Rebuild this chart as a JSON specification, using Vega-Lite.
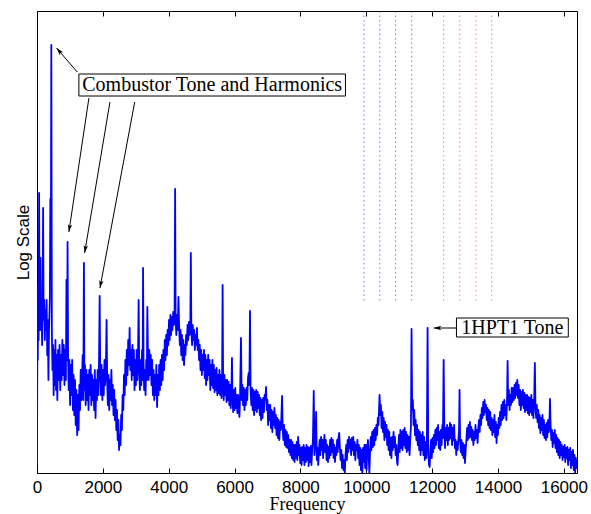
{
"$schema":"https://vega.github.io/schema/vega-lite/v6.json",
"width":540,"height":462,
"autosize":{"type":"none"},
"padding":{"left":37,"top":11,"right":14,"bottom":41},
"background":"white",
"config":{"view":{"stroke":"#000","strokeWidth":1}},
"datasets":{
"spectrum":[{"freq":0,"level":8},{"freq":12,"level":143},{"freq":24,"level":113},{"freq":37,"level":190},{"freq":49,"level":133},{"freq":64,"level":280},{"freq":79,"level":143},{"freq":91,"level":173},{"freq":107,"level":215},{"freq":122,"level":143},{"freq":140,"level":163},{"freq":155,"level":128},{"freq":170,"level":173},{"freq":186,"level":265},{"freq":201,"level":153},{"freq":219,"level":173},{"freq":237,"level":133},{"freq":256,"level":163},{"freq":274,"level":143},{"freq":292,"level":173},{"freq":310,"level":118},{"freq":329,"level":153},{"freq":347,"level":93},{"freq":365,"level":143},{"freq":390,"level":173},{"freq":405,"level":274},{"freq":420,"level":213},{"freq":435,"level":428},{"freq":451,"level":143},{"freq":469,"level":103},{"freq":487,"level":128},{"freq":505,"level":78},{"freq":524,"level":123},{"freq":542,"level":88},{"freq":560,"level":133},{"freq":578,"level":83},{"freq":597,"level":118},{"freq":618,"level":73},{"freq":639,"level":123},{"freq":664,"level":93},{"freq":685,"level":128},{"freq":706,"level":83},{"freq":728,"level":118},{"freq":749,"level":93},{"freq":770,"level":133},{"freq":791,"level":98},{"freq":813,"level":128},{"freq":834,"level":88},{"freq":855,"level":123},{"freq":877,"level":93},{"freq":895,"level":193},{"freq":913,"level":113},{"freq":928,"level":231},{"freq":944,"level":118},{"freq":962,"level":83},{"freq":983,"level":113},{"freq":1005,"level":68},{"freq":1026,"level":108},{"freq":1047,"level":78},{"freq":1068,"level":113},{"freq":1090,"level":63},{"freq":1111,"level":98},{"freq":1132,"level":58},{"freq":1154,"level":93},{"freq":1175,"level":48},{"freq":1196,"level":83},{"freq":1221,"level":38},{"freq":1242,"level":78},{"freq":1263,"level":43},{"freq":1285,"level":88},{"freq":1306,"level":63},{"freq":1327,"level":103},{"freq":1349,"level":73},{"freq":1370,"level":98},{"freq":1388,"level":118},{"freq":1406,"level":73},{"freq":1425,"level":210},{"freq":1440,"level":83},{"freq":1458,"level":108},{"freq":1479,"level":68},{"freq":1501,"level":103},{"freq":1522,"level":73},{"freq":1543,"level":98},{"freq":1565,"level":63},{"freq":1586,"level":103},{"freq":1607,"level":78},{"freq":1629,"level":108},{"freq":1650,"level":68},{"freq":1671,"level":98},{"freq":1692,"level":73},{"freq":1714,"level":93},{"freq":1735,"level":63},{"freq":1756,"level":103},{"freq":1778,"level":55},{"freq":1799,"level":93},{"freq":1820,"level":73},{"freq":1842,"level":103},{"freq":1863,"level":78},{"freq":1884,"level":113},{"freq":1903,"level":177},{"freq":1921,"level":98},{"freq":1942,"level":78},{"freq":1963,"level":108},{"freq":1985,"level":73},{"freq":2006,"level":103},{"freq":2027,"level":78},{"freq":2049,"level":113},{"freq":2070,"level":88},{"freq":2091,"level":103},{"freq":2113,"level":153},{"freq":2131,"level":93},{"freq":2152,"level":68},{"freq":2173,"level":98},{"freq":2195,"level":63},{"freq":2216,"level":93},{"freq":2237,"level":73},{"freq":2259,"level":103},{"freq":2280,"level":68},{"freq":2301,"level":88},{"freq":2323,"level":58},{"freq":2344,"level":83},{"freq":2365,"level":53},{"freq":2386,"level":73},{"freq":2408,"level":43},{"freq":2429,"level":63},{"freq":2450,"level":33},{"freq":2472,"level":53},{"freq":2493,"level":23},{"freq":2514,"level":38},{"freq":2536,"level":28},{"freq":2557,"level":58},{"freq":2578,"level":43},{"freq":2600,"level":78},{"freq":2621,"level":63},{"freq":2642,"level":98},{"freq":2664,"level":78},{"freq":2685,"level":113},{"freq":2706,"level":88},{"freq":2727,"level":123},{"freq":2749,"level":98},{"freq":2770,"level":133},{"freq":2791,"level":108},{"freq":2813,"level":145},{"freq":2834,"level":103},{"freq":2855,"level":123},{"freq":2877,"level":93},{"freq":2898,"level":128},{"freq":2919,"level":98},{"freq":2941,"level":123},{"freq":2962,"level":83},{"freq":2983,"level":113},{"freq":3004,"level":88},{"freq":3026,"level":123},{"freq":3047,"level":93},{"freq":3068,"level":118},{"freq":3087,"level":173},{"freq":3105,"level":103},{"freq":3126,"level":83},{"freq":3147,"level":113},{"freq":3169,"level":88},{"freq":3190,"level":123},{"freq":3208,"level":93},{"freq":3221,"level":205},{"freq":3236,"level":113},{"freq":3254,"level":83},{"freq":3275,"level":103},{"freq":3297,"level":78},{"freq":3318,"level":113},{"freq":3336,"level":93},{"freq":3351,"level":166},{"freq":3370,"level":118},{"freq":3391,"level":93},{"freq":3412,"level":123},{"freq":3434,"level":98},{"freq":3455,"level":118},{"freq":3476,"level":88},{"freq":3498,"level":113},{"freq":3519,"level":78},{"freq":3540,"level":103},{"freq":3561,"level":73},{"freq":3583,"level":98},{"freq":3604,"level":78},{"freq":3625,"level":108},{"freq":3647,"level":66},{"freq":3668,"level":98},{"freq":3689,"level":78},{"freq":3711,"level":108},{"freq":3732,"level":83},{"freq":3753,"level":113},{"freq":3775,"level":88},{"freq":3796,"level":118},{"freq":3817,"level":93},{"freq":3838,"level":123},{"freq":3860,"level":103},{"freq":3881,"level":133},{"freq":3902,"level":113},{"freq":3924,"level":138},{"freq":3945,"level":118},{"freq":3966,"level":143},{"freq":3988,"level":128},{"freq":4009,"level":153},{"freq":4030,"level":133},{"freq":4052,"level":158},{"freq":4073,"level":138},{"freq":4094,"level":156},{"freq":4115,"level":143},{"freq":4137,"level":161},{"freq":4158,"level":148},{"freq":4179,"level":163},{"freq":4195,"level":284},{"freq":4210,"level":153},{"freq":4231,"level":138},{"freq":4252,"level":158},{"freq":4274,"level":143},{"freq":4295,"level":176},{"freq":4316,"level":148},{"freq":4338,"level":128},{"freq":4359,"level":143},{"freq":4380,"level":118},{"freq":4402,"level":138},{"freq":4423,"level":113},{"freq":4444,"level":133},{"freq":4466,"level":108},{"freq":4487,"level":128},{"freq":4508,"level":118},{"freq":4529,"level":138},{"freq":4551,"level":128},{"freq":4572,"level":148},{"freq":4593,"level":133},{"freq":4615,"level":151},{"freq":4636,"level":138},{"freq":4657,"level":148},{"freq":4672,"level":220},{"freq":4688,"level":143},{"freq":4709,"level":128},{"freq":4730,"level":148},{"freq":4752,"level":133},{"freq":4773,"level":143},{"freq":4794,"level":123},{"freq":4816,"level":138},{"freq":4837,"level":128},{"freq":4858,"level":145},{"freq":4880,"level":123},{"freq":4901,"level":133},{"freq":4922,"level":113},{"freq":4943,"level":128},{"freq":4965,"level":103},{"freq":4986,"level":123},{"freq":5007,"level":98},{"freq":5029,"level":118},{"freq":5050,"level":103},{"freq":5071,"level":123},{"freq":5093,"level":95},{"freq":5114,"level":118},{"freq":5135,"level":88},{"freq":5157,"level":113},{"freq":5178,"level":93},{"freq":5199,"level":118},{"freq":5220,"level":98},{"freq":5242,"level":113},{"freq":5263,"level":83},{"freq":5284,"level":108},{"freq":5306,"level":88},{"freq":5327,"level":113},{"freq":5348,"level":85},{"freq":5370,"level":108},{"freq":5391,"level":81},{"freq":5412,"level":103},{"freq":5434,"level":83},{"freq":5455,"level":105},{"freq":5476,"level":78},{"freq":5498,"level":98},{"freq":5519,"level":80},{"freq":5540,"level":103},{"freq":5561,"level":78},{"freq":5583,"level":98},{"freq":5604,"level":75},{"freq":5622,"level":95},{"freq":5637,"level":188},{"freq":5653,"level":88},{"freq":5671,"level":73},{"freq":5692,"level":98},{"freq":5714,"level":78},{"freq":5735,"level":93},{"freq":5756,"level":71},{"freq":5778,"level":93},{"freq":5799,"level":73},{"freq":5820,"level":91},{"freq":5842,"level":68},{"freq":5863,"level":88},{"freq":5884,"level":65},{"freq":5905,"level":83},{"freq":5921,"level":115},{"freq":5936,"level":78},{"freq":5957,"level":61},{"freq":5978,"level":83},{"freq":6000,"level":63},{"freq":6021,"level":85},{"freq":6042,"level":65},{"freq":6064,"level":78},{"freq":6085,"level":60},{"freq":6106,"level":78},{"freq":6128,"level":63},{"freq":6149,"level":56},{"freq":6167,"level":78},{"freq":6195,"level":135},{"freq":6216,"level":73},{"freq":6237,"level":88},{"freq":6258,"level":68},{"freq":6280,"level":85},{"freq":6301,"level":63},{"freq":6322,"level":83},{"freq":6344,"level":68},{"freq":6365,"level":85},{"freq":6386,"level":73},{"freq":6408,"level":95},{"freq":6429,"level":100},{"freq":6450,"level":88},{"freq":6469,"level":162},{"freq":6487,"level":83},{"freq":6508,"level":68},{"freq":6529,"level":85},{"freq":6551,"level":63},{"freq":6572,"level":83},{"freq":6593,"level":58},{"freq":6615,"level":81},{"freq":6636,"level":63},{"freq":6657,"level":83},{"freq":6678,"level":61},{"freq":6700,"level":81},{"freq":6721,"level":65},{"freq":6742,"level":78},{"freq":6764,"level":58},{"freq":6785,"level":75},{"freq":6806,"level":53},{"freq":6828,"level":73},{"freq":6849,"level":55},{"freq":6870,"level":75},{"freq":6892,"level":61},{"freq":6913,"level":78},{"freq":6934,"level":73},{"freq":6956,"level":86},{"freq":6977,"level":63},{"freq":6998,"level":73},{"freq":7019,"level":48},{"freq":7041,"level":68},{"freq":7062,"level":53},{"freq":7083,"level":68},{"freq":7105,"level":45},{"freq":7126,"level":63},{"freq":7147,"level":41},{"freq":7169,"level":61},{"freq":7190,"level":48},{"freq":7211,"level":65},{"freq":7233,"level":45},{"freq":7254,"level":58},{"freq":7275,"level":38},{"freq":7297,"level":55},{"freq":7318,"level":35},{"freq":7339,"level":53},{"freq":7360,"level":33},{"freq":7382,"level":51},{"freq":7403,"level":43},{"freq":7421,"level":55},{"freq":7443,"level":77},{"freq":7461,"level":45},{"freq":7482,"level":33},{"freq":7503,"level":48},{"freq":7525,"level":28},{"freq":7546,"level":43},{"freq":7567,"level":26},{"freq":7589,"level":41},{"freq":7610,"level":25},{"freq":7631,"level":38},{"freq":7653,"level":21},{"freq":7674,"level":33},{"freq":7695,"level":18},{"freq":7717,"level":33},{"freq":7738,"level":15},{"freq":7759,"level":31},{"freq":7781,"level":13},{"freq":7802,"level":28},{"freq":7823,"level":11},{"freq":7844,"level":28},{"freq":7866,"level":15},{"freq":7887,"level":31},{"freq":7908,"level":13},{"freq":7930,"level":36},{"freq":7951,"level":18},{"freq":7972,"level":28},{"freq":7994,"level":10},{"freq":8015,"level":25},{"freq":8036,"level":8},{"freq":8058,"level":26},{"freq":8079,"level":13},{"freq":8100,"level":28},{"freq":8122,"level":8},{"freq":8143,"level":25},{"freq":8164,"level":11},{"freq":8185,"level":28},{"freq":8207,"level":13},{"freq":8228,"level":26},{"freq":8249,"level":7},{"freq":8271,"level":25},{"freq":8292,"level":11},{"freq":8313,"level":27},{"freq":8335,"level":8},{"freq":8356,"level":23},{"freq":8380,"level":33},{"freq":8405,"level":82},{"freq":8426,"level":18},{"freq":8450,"level":28},{"freq":8477,"level":61},{"freq":8499,"level":13},{"freq":8520,"level":25},{"freq":8541,"level":8},{"freq":8563,"level":23},{"freq":8584,"level":33},{"freq":8605,"level":18},{"freq":8627,"level":36},{"freq":8648,"level":23},{"freq":8669,"level":33},{"freq":8690,"level":15},{"freq":8712,"level":31},{"freq":8730,"level":38},{"freq":8751,"level":21},{"freq":8773,"level":33},{"freq":8794,"level":13},{"freq":8815,"level":28},{"freq":8837,"level":11},{"freq":8858,"level":26},{"freq":8879,"level":15},{"freq":8901,"level":33},{"freq":8922,"level":18},{"freq":8943,"level":35},{"freq":8965,"level":21},{"freq":8986,"level":33},{"freq":9007,"level":15},{"freq":9029,"level":28},{"freq":9050,"level":11},{"freq":9071,"level":25},{"freq":9092,"level":18},{"freq":9114,"level":33},{"freq":9135,"level":21},{"freq":9156,"level":35},{"freq":9178,"level":40},{"freq":9199,"level":25},{"freq":9220,"level":13},{"freq":9242,"level":23},{"freq":9263,"level":5},{"freq":9284,"level":18},{"freq":9306,"level":3},{"freq":9327,"level":13},{"freq":9348,"level":0},{"freq":9370,"level":18},{"freq":9391,"level":28},{"freq":9412,"level":13},{"freq":9433,"level":33},{"freq":9455,"level":21},{"freq":9476,"level":36},{"freq":9497,"level":25},{"freq":9519,"level":33},{"freq":9540,"level":18},{"freq":9561,"level":35},{"freq":9583,"level":23},{"freq":9604,"level":36},{"freq":9625,"level":18},{"freq":9647,"level":31},{"freq":9668,"level":13},{"freq":9689,"level":28},{"freq":9711,"level":23},{"freq":9732,"level":33},{"freq":9753,"level":15},{"freq":9774,"level":28},{"freq":9796,"level":8},{"freq":9817,"level":25},{"freq":9838,"level":3},{"freq":9860,"level":23},{"freq":9881,"level":0},{"freq":9902,"level":25},{"freq":9924,"level":11},{"freq":9945,"level":28},{"freq":9966,"level":5},{"freq":9988,"level":28},{"freq":10009,"level":3},{"freq":10030,"level":23},{"freq":10051,"level":33},{"freq":10073,"level":18},{"freq":10094,"level":0},{"freq":10115,"level":21},{"freq":10137,"level":36},{"freq":10158,"level":23},{"freq":10179,"level":41},{"freq":10201,"level":26},{"freq":10222,"level":43},{"freq":10243,"level":28},{"freq":10265,"level":45},{"freq":10286,"level":33},{"freq":10307,"level":48},{"freq":10329,"level":38},{"freq":10350,"level":55},{"freq":10371,"level":48},{"freq":10389,"level":65},{"freq":10404,"level":78},{"freq":10423,"level":58},{"freq":10444,"level":68},{"freq":10465,"level":45},{"freq":10487,"level":61},{"freq":10508,"level":41},{"freq":10529,"level":55},{"freq":10550,"level":33},{"freq":10572,"level":51},{"freq":10593,"level":36},{"freq":10614,"level":48},{"freq":10636,"level":28},{"freq":10657,"level":43},{"freq":10678,"level":23},{"freq":10700,"level":41},{"freq":10721,"level":18},{"freq":10742,"level":35},{"freq":10764,"level":15},{"freq":10785,"level":36},{"freq":10806,"level":23},{"freq":10828,"level":41},{"freq":10849,"level":26},{"freq":10870,"level":36},{"freq":10891,"level":18},{"freq":10913,"level":28},{"freq":10934,"level":11},{"freq":10952,"level":8},{"freq":10974,"level":25},{"freq":10995,"level":38},{"freq":11016,"level":21},{"freq":11037,"level":43},{"freq":11059,"level":25},{"freq":11080,"level":41},{"freq":11101,"level":23},{"freq":11123,"level":43},{"freq":11144,"level":28},{"freq":11165,"level":45},{"freq":11187,"level":25},{"freq":11208,"level":41},{"freq":11229,"level":21},{"freq":11251,"level":38},{"freq":11272,"level":23},{"freq":11293,"level":36},{"freq":11315,"level":18},{"freq":11336,"level":33},{"freq":11357,"level":48},{"freq":11375,"level":144},{"freq":11394,"level":63},{"freq":11415,"level":73},{"freq":11436,"level":48},{"freq":11457,"level":63},{"freq":11479,"level":38},{"freq":11500,"level":53},{"freq":11521,"level":33},{"freq":11543,"level":48},{"freq":11564,"level":28},{"freq":11585,"level":43},{"freq":11607,"level":23},{"freq":11628,"level":41},{"freq":11649,"level":18},{"freq":11671,"level":38},{"freq":11692,"level":23},{"freq":11713,"level":41},{"freq":11735,"level":18},{"freq":11756,"level":36},{"freq":11777,"level":13},{"freq":11798,"level":31},{"freq":11820,"level":15},{"freq":11841,"level":33},{"freq":11862,"level":145},{"freq":11884,"level":18},{"freq":11905,"level":8},{"freq":11926,"level":6},{"freq":11948,"level":23},{"freq":11969,"level":33},{"freq":11990,"level":15},{"freq":12012,"level":35},{"freq":12033,"level":21},{"freq":12054,"level":38},{"freq":12075,"level":25},{"freq":12097,"level":43},{"freq":12118,"level":28},{"freq":12139,"level":45},{"freq":12161,"level":33},{"freq":12182,"level":48},{"freq":12203,"level":25},{"freq":12225,"level":41},{"freq":12246,"level":23},{"freq":12267,"level":43},{"freq":12289,"level":28},{"freq":12310,"level":48},{"freq":12328,"level":35},{"freq":12350,"level":113},{"freq":12371,"level":43},{"freq":12392,"level":25},{"freq":12413,"level":45},{"freq":12435,"level":33},{"freq":12456,"level":48},{"freq":12477,"level":28},{"freq":12499,"level":45},{"freq":12520,"level":33},{"freq":12541,"level":50},{"freq":12563,"level":35},{"freq":12584,"level":48},{"freq":12605,"level":28},{"freq":12627,"level":45},{"freq":12648,"level":33},{"freq":12669,"level":48},{"freq":12691,"level":25},{"freq":12712,"level":33},{"freq":12733,"level":18},{"freq":12754,"level":31},{"freq":12776,"level":23},{"freq":12797,"level":33},{"freq":12818,"level":43},{"freq":12833,"level":83},{"freq":12849,"level":33},{"freq":12870,"level":21},{"freq":12891,"level":33},{"freq":12912,"level":18},{"freq":12934,"level":30},{"freq":12955,"level":15},{"freq":12976,"level":28},{"freq":12998,"level":10},{"freq":13019,"level":23},{"freq":13040,"level":33},{"freq":13062,"level":45},{"freq":13083,"level":33},{"freq":13104,"level":48},{"freq":13126,"level":35},{"freq":13147,"level":51},{"freq":13168,"level":36},{"freq":13190,"level":46},{"freq":13211,"level":33},{"freq":13232,"level":43},{"freq":13253,"level":28},{"freq":13275,"level":41},{"freq":13296,"level":33},{"freq":13317,"level":48},{"freq":13339,"level":35},{"freq":13360,"level":43},{"freq":13381,"level":30},{"freq":13403,"level":45},{"freq":13424,"level":53},{"freq":13445,"level":41},{"freq":13467,"level":58},{"freq":13488,"level":48},{"freq":13509,"level":65},{"freq":13531,"level":55},{"freq":13552,"level":71},{"freq":13573,"level":58},{"freq":13594,"level":73},{"freq":13616,"level":61},{"freq":13637,"level":68},{"freq":13658,"level":53},{"freq":13680,"level":65},{"freq":13701,"level":48},{"freq":13722,"level":63},{"freq":13744,"level":45},{"freq":13765,"level":61},{"freq":13786,"level":43},{"freq":13808,"level":55},{"freq":13829,"level":38},{"freq":13850,"level":53},{"freq":13872,"level":41},{"freq":13893,"level":58},{"freq":13914,"level":36},{"freq":13935,"level":51},{"freq":13957,"level":30},{"freq":13978,"level":48},{"freq":13999,"level":38},{"freq":14021,"level":55},{"freq":14042,"level":45},{"freq":14063,"level":61},{"freq":14085,"level":48},{"freq":14106,"level":68},{"freq":14127,"level":53},{"freq":14149,"level":71},{"freq":14170,"level":55},{"freq":14191,"level":73},{"freq":14213,"level":58},{"freq":14234,"level":68},{"freq":14255,"level":53},{"freq":14276,"level":73},{"freq":14292,"level":112},{"freq":14310,"level":68},{"freq":14331,"level":83},{"freq":14353,"level":63},{"freq":14374,"level":78},{"freq":14395,"level":68},{"freq":14416,"level":85},{"freq":14438,"level":71},{"freq":14459,"level":85},{"freq":14480,"level":73},{"freq":14502,"level":88},{"freq":14523,"level":75},{"freq":14544,"level":90},{"freq":14566,"level":78},{"freq":14587,"level":93},{"freq":14608,"level":75},{"freq":14630,"level":88},{"freq":14651,"level":68},{"freq":14672,"level":83},{"freq":14694,"level":63},{"freq":14715,"level":81},{"freq":14736,"level":68},{"freq":14757,"level":83},{"freq":14779,"level":65},{"freq":14800,"level":80},{"freq":14821,"level":61},{"freq":14843,"level":78},{"freq":14864,"level":63},{"freq":14885,"level":78},{"freq":14907,"level":60},{"freq":14928,"level":76},{"freq":14949,"level":58},{"freq":14971,"level":75},{"freq":14992,"level":61},{"freq":15013,"level":78},{"freq":15035,"level":58},{"freq":15056,"level":73},{"freq":15077,"level":55},{"freq":15098,"level":71},{"freq":15120,"level":110},{"freq":15138,"level":68},{"freq":15159,"level":55},{"freq":15180,"level":68},{"freq":15202,"level":51},{"freq":15223,"level":63},{"freq":15244,"level":45},{"freq":15266,"level":58},{"freq":15287,"level":40},{"freq":15308,"level":55},{"freq":15330,"level":43},{"freq":15351,"level":58},{"freq":15372,"level":38},{"freq":15394,"level":53},{"freq":15415,"level":35},{"freq":15436,"level":48},{"freq":15458,"level":33},{"freq":15479,"level":50},{"freq":15500,"level":36},{"freq":15521,"level":53},{"freq":15543,"level":41},{"freq":15561,"level":48},{"freq":15579,"level":74},{"freq":15598,"level":48},{"freq":15619,"level":33},{"freq":15640,"level":43},{"freq":15661,"level":26},{"freq":15683,"level":40},{"freq":15704,"level":30},{"freq":15725,"level":43},{"freq":15747,"level":25},{"freq":15768,"level":38},{"freq":15789,"level":21},{"freq":15811,"level":35},{"freq":15832,"level":18},{"freq":15853,"level":33},{"freq":15875,"level":15},{"freq":15896,"level":31},{"freq":15917,"level":18},{"freq":15939,"level":28},{"freq":15960,"level":13},{"freq":15981,"level":26},{"freq":16002,"level":16},{"freq":16024,"level":28},{"freq":16045,"level":11},{"freq":16066,"level":25},{"freq":16088,"level":15},{"freq":16109,"level":26},{"freq":16130,"level":8},{"freq":16152,"level":23},{"freq":16173,"level":13},{"freq":16194,"level":25},{"freq":16216,"level":5},{"freq":16237,"level":21},{"freq":16258,"level":8},{"freq":16279,"level":23},{"freq":16301,"level":3},{"freq":16322,"level":18},{"freq":16343,"level":0},{"freq":16365,"level":15},{"freq":16386,"level":5},{"freq":16401,"level":13}],
"blueLines":[{"freq":9930},{"freq":10410},{"freq":10890},{"freq":11380}],
"redLines":[{"freq":12350},{"freq":12840},{"freq":13330},{"freq":13810}],
"arrows":[{"x1":1221,"y1":401,"x2":594,"y2":425},{"x1":1577,"y1":375,"x2":968,"y2":241},{"x1":2216,"y1":371,"x2":1446,"y2":220},{"x1":2968,"y1":371,"x2":1912,"y2":185},{"x1":12739,"y1":145,"x2":12048,"y2":145}],
"boxes":[{"label":"Combustor Tone and Harmonics","x1":1272,"x2":9368,"y1":377,"y2":399,"cx":5320,"cy":388},{"label":"1HPT1 Tone","x1":12739,"x2":16136,"y1":136,"y2":155,"cx":14438,"cy":145.5}]
},
"layer":[
{"data":{"name":"spectrum"},
 "mark":{"type":"line","color":"#0000ff","strokeWidth":1.8,"strokeJoin":"round","clip":true},
 "encoding":{
  "x":{"field":"freq","type":"quantitative","scale":{"domain":[0,16400],"nice":false,"zero":false},
   "axis":{"title":"Frequency","values":[0,2000,4000,6000,8000,10000,12000,14000,16000],"format":"d","labelFont":"Liberation Sans","labelFontSize":17,"labelColor":"#000","labelFlush":false,"labelOverlap":false,"labelPadding":11,"tickSize":-5,"tickColor":"#000","tickWidth":1,"domain":false,"grid":false,"titleFont":"Liberation Serif","titleFontSize":18,"titleFontWeight":"normal","titleColor":"#000","titlePadding":0}},
  "y":{"field":"level","type":"quantitative","scale":{"domain":[0,462],"nice":false},
   "axis":{"title":"Log Scale","labels":false,"ticks":false,"domain":false,"grid":false,"titleFont":"Liberation Sans","titleFontSize":17,"titleFontWeight":"normal","titleColor":"#000","titlePadding":5}}
 }},
{"data":{"name":"blueLines"},
 "mark":{"type":"rule","color":"#0000ff","strokeWidth":1,"strokeDash":[1.5,3],"opacity":0.55},
 "encoding":{
  "x":{"field":"freq","type":"quantitative","scale":{"domain":[0,16400],"nice":false,"zero":false},
   "axis":{"orient":"top","title":null,"labels":false,"values":[0,2000,4000,6000,8000,10000,12000,14000,16000],"tickSize":-5,"tickColor":"#000","tickWidth":1,"domain":false,"grid":false}},
  "y":{"datum":462,"type":"quantitative","scale":{"domain":[0,462],"nice":false},"axis":null},
  "y2":{"datum":170}
 }},
{"data":{"name":"redLines"},
 "mark":{"type":"rule","color":"#ff0000","strokeWidth":1,"strokeDash":[1.5,3],"opacity":0.5},
 "encoding":{
  "x":{"field":"freq","type":"quantitative","scale":{"domain":[0,16400],"nice":false,"zero":false},"axis":null},
  "y":{"datum":462,"type":"quantitative","scale":{"domain":[0,462],"nice":false},"axis":null},
  "y2":{"datum":170}
 }},
{"data":{"name":"arrows"},
 "mark":{"type":"rule","color":"#000","strokeWidth":1},
 "encoding":{
  "x":{"field":"x1","type":"quantitative","scale":{"domain":[0,16400],"nice":false,"zero":false},"axis":null},
  "x2":{"field":"x2"},
  "y":{"field":"y1","type":"quantitative","scale":{"domain":[0,462],"nice":false},"axis":null},
  "y2":{"field":"y2"}
 }},
{"data":{"values":[{"freq":594,"level":425}]},
 "mark":{"type":"point","shape":"M0,0L-0.55,1.9L0,1.45L0.55,1.9Z","size":64,"filled":true,"color":"#000","opacity":1,"angle":319},
 "encoding":{"x":{"field":"freq","type":"quantitative","axis":null},"y":{"field":"level","type":"quantitative","axis":null}}},
{"data":{"values":[{"freq":968,"level":241}]},
 "mark":{"type":"point","shape":"M0,0L-0.55,1.9L0,1.45L0.55,1.9Z","size":64,"filled":true,"color":"#000","opacity":1,"angle":188.5},
 "encoding":{"x":{"field":"freq","type":"quantitative","axis":null},"y":{"field":"level","type":"quantitative","axis":null}}},
{"data":{"values":[{"freq":1446,"level":220}]},
 "mark":{"type":"point","shape":"M0,0L-0.55,1.9L0,1.45L0.55,1.9Z","size":64,"filled":true,"color":"#000","opacity":1,"angle":189.5},
 "encoding":{"x":{"field":"freq","type":"quantitative","axis":null},"y":{"field":"level","type":"quantitative","axis":null}}},
{"data":{"values":[{"freq":1912,"level":185}]},
 "mark":{"type":"point","shape":"M0,0L-0.55,1.9L0,1.45L0.55,1.9Z","size":64,"filled":true,"color":"#000","opacity":1,"angle":190.7},
 "encoding":{"x":{"field":"freq","type":"quantitative","axis":null},"y":{"field":"level","type":"quantitative","axis":null}}},
{"data":{"values":[{"freq":12048,"level":145}]},
 "mark":{"type":"point","shape":"M0,0L-0.55,1.9L0,1.45L0.55,1.9Z","size":64,"filled":true,"color":"#000","opacity":1,"angle":270},
 "encoding":{"x":{"field":"freq","type":"quantitative","axis":null},"y":{"field":"level","type":"quantitative","axis":null}}},
{"data":{"name":"boxes"},
 "mark":{"type":"rect","fill":"#fff","stroke":"#000","strokeWidth":1},
 "encoding":{
  "x":{"field":"x1","type":"quantitative","axis":null},"x2":{"field":"x2"},
  "y":{"field":"y1","type":"quantitative","axis":null},"y2":{"field":"y2"}
 }},
{"data":{"name":"boxes"},
 "mark":{"type":"text","font":"Liberation Serif","fontSize":20,"color":"#000","align":"center","baseline":"middle"},
 "encoding":{
  "x":{"field":"cx","type":"quantitative","axis":null},
  "y":{"field":"cy","type":"quantitative","axis":null},
  "text":{"field":"label"}
 }}
],
"resolve":{"axis":{"x":"independent","y":"independent"}}
}
